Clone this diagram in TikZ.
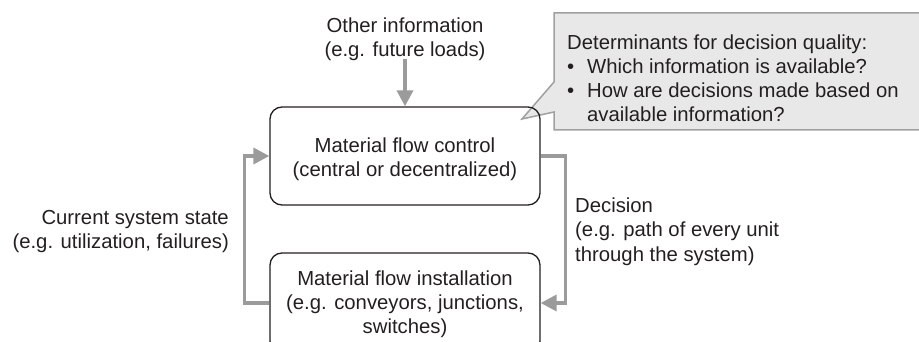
\documentclass[tikz,border=0pt]{standalone}
\usepackage{fontspec}
\setmainfont{Liberation Sans}
\usetikzlibrary{arrows.meta}
\definecolor{conncol}{HTML}{9B9B9B}
\definecolor{callfill}{HTML}{E8E8E8}
\definecolor{callline}{HTML}{A0A0A0}
\definecolor{txtcol}{HTML}{231F20}
\newcommand{\mlines}[2]{\begin{tabular}[t]{@{}#1@{}}#2\end{tabular}}
\tikzset{
  lbl/.style={font=\fontsize{20.3}{24}\selectfont, text=txtcol, inner sep=0pt, anchor=base},
  flowbox/.style={draw=txtcol, line width=1.3pt, rounded corners=12pt, minimum width=270pt, inner sep=0pt},
  conn/.style={draw=conncol, line width=3.5pt, -{Triangle[length=16pt,width=16pt]}},
}
\begin{document}
\begin{tikzpicture}[x=1pt,y=-1pt]
\useasboundingbox (0,0) rectangle (919,342);
% callout
\draw[fill=callfill, draw=callline, line width=1.5pt]
  (554,13) -- (925,13) -- (925,130) -- (554,130) -- (554,112) -- (522,119) -- (554,82) -- cycle;
\node[lbl, anchor=base west] (callt) at (567,50) {\mlines{l}{Determinants for decision quality:\\
\makebox[20pt][l]{\textbullet}Which information is available?\\
\makebox[20pt][l]{\textbullet}How are decisions made based on\\
\hspace*{20pt}available information?}};
% boxes
\node[flowbox, minimum height=98pt] (ctrl) at (405,156) {};
\node[flowbox, minimum height=100pt] (inst) at (405,303) {};
\node[lbl] (ctrlt) at (405,153) {\mlines{c}{Material flow control\\(central or decentralized)}};
\node[lbl] (instt) at (405,285) {\mlines{c}{Material flow installation\\(e.g. conveyors, junctions,\\switches)}};
% labels
\node[lbl] (other) at (405,33) {\mlines{c}{Other information\\(e.g. future loads)}};
\node[lbl, anchor=base west] (dec) at (575,213) {\mlines{l}{Decision\\(e.g. path of every unit\\through the system)}};
\node[lbl, anchor=base east] (state) at (229,225) {\mlines{r}{Current system state\\(e.g. utilization, failures)}};
% connectors
\draw[conn] ([yshift=5pt]other.south) -- (ctrl.north);
\draw[conn] (ctrl.east) -- ++(25,0) |- (inst.east);
\draw[conn] (inst.west) -- ++(-25,0) |- (ctrl.west);
\end{tikzpicture}
\end{document}
